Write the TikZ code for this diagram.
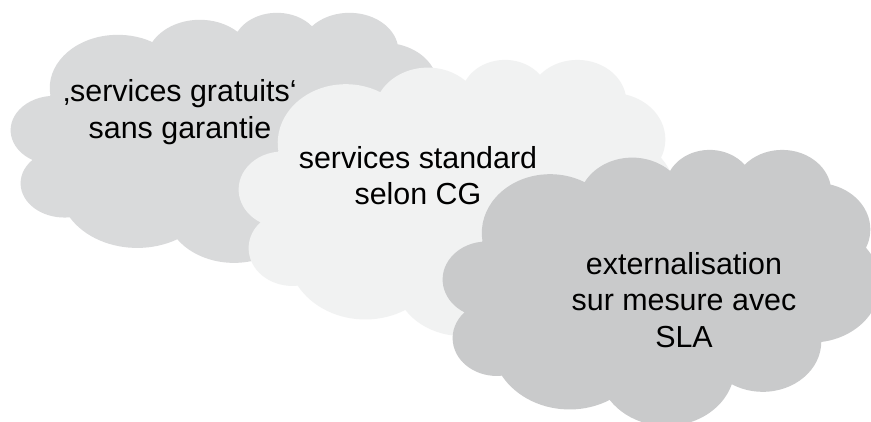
\documentclass[tikz,border=0pt]{standalone}
\usepackage{fontspec}
\setmainfont{Liberation Sans}
\definecolor{cloudA}{HTML}{D9DADB}
\definecolor{cloudB}{HTML}{F1F2F2}
\definecolor{cloudC}{HTML}{C9CACB}
\newcommand\drawcloud[5]{%
  \begin{scope}[shift={(#1pt,-#2pt)}, xscale={#3/432}, yscale={-#4/432}]
    \fill[#5] (39pt,143.7pt)
      arc[start angle=-187.75, delta angle=128.09, x radius=67.53pt, y radius=91.90pt]
      arc[start angle=-151.98, delta angle=106.48, x radius=53.33pt, y radius=72.67pt]
      arc[start angle=-153.46, delta angle=116.08, x radius=43.65pt, y radius=59.45pt]
      arc[start angle=-139.76, delta angle=129.56, x radius=48.57pt, y radius=65.95pt]
      arc[start angle=-74.80, delta angle=98.06, x radius=53.33pt, y radius=72.73pt]
      arc[start angle=-37.53, delta angle=119.39, x radius=67.75pt, y radius=92.20pt]
      arc[start angle=0.46, delta angle=121.53, x radius=57.85pt, y radius=78.67pt]
      arc[start angle=16.89, delta angle=129.25, x radius=67.52pt, y radius=92.15pt]
      arc[start angle=59.07, delta angle=91.04, x radius=77.20pt, y radius=105.43pt]
      arc[start angle=-276.71, delta angle=139.75, x radius=43.60pt, y radius=59.18pt]
      arc[start angle=-239.79, delta angle=143.93, x radius=43.45pt, y radius=59.45pt]
      -- cycle;
  \end{scope}}
\tikzset{lbl/.style={align=center, inner sep=0pt, text=black,
  font=\fontsize{30.4pt}{36.5pt}\selectfont}}
\begin{document}
\begin{tikzpicture}
\fill[white] (0pt,0pt) rectangle (871pt,-422pt);
\useasboundingbox (0pt,0pt) rectangle (871pt,-422pt);
\drawcloud{11}{12}{436}{250}{cloudA}
\drawcloud{239}{59}{436}{276}{cloudB}
\drawcloud{443}{149}{437}{276}{cloudC}
\node[lbl] (t1) at (180pt,-112pt) {‚services gratuits‘\\sans garantie};
\node[lbl] (t2) at (418pt,-175.5pt) {services standard\\selon CG};
\node[lbl] (t3) at (684pt,-300pt) {externalisation\\sur mesure avec\\SLA};
\end{tikzpicture}
\end{document}
